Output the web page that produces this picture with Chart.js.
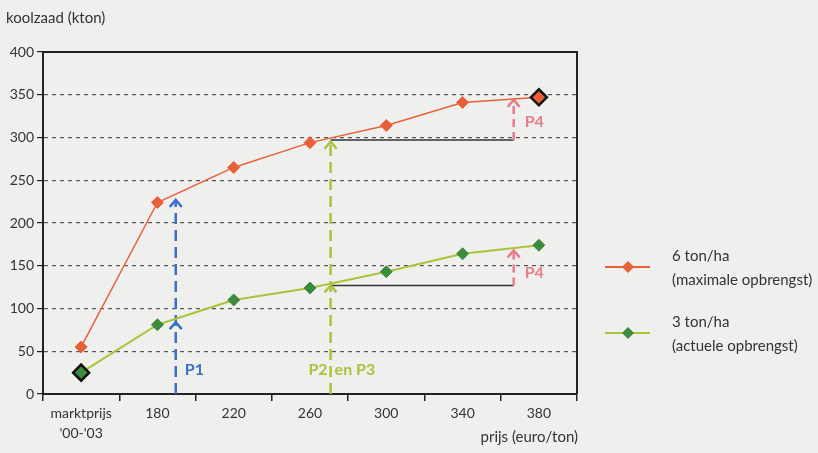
<!DOCTYPE html>
<html>
<head>
<meta charset="utf-8">
<script src="https://cdn.jsdelivr.net/npm/chart.js@4/dist/chart.umd.min.js"></script>
<style>
  html, body { margin: 0; padding: 0; background: #eff0ed; }
  #wrap { width: 818px; height: 453px; }
</style>
</head>
<body>
<div id="wrap"><canvas id="chart"></canvas></div>
<script>
const categories = [["marktprijs", "'00-'03"], "180", "220", "260", "300", "340", "380"];
const max6 = [55, 224, 265, 294, 314, 341, 347];
const act3 = [25, 81, 110, 124, 143, 164, 174];
const yTicks = [0, 50, 100, 150, 200, 250, 300, 350, 400];

const FONT = "Lato, 'Open Sans', sans-serif";
const ORANGE = '#e8603a';
const GREEN = '#3d8c3d';
const BLUE = '#3b70c8';
const LIME = '#a9c43c';
const PINK = '#e97d8c';

// arrows: x as fractional category index, values in kton
const arrows = [
  { x: 1.24, from: 0, heads: [227, 84], color: BLUE, dash: [11, 6] },
  { x: 3.27, from: 0, heads: [295, 127], color: LIME, dash: [11, 6] },
  { x: 5.67, from: 297, heads: [344], color: PINK, dash: [8, 5], label: 'P4', labelY: 318 },
  { x: 5.67, from: 127, heads: [168], color: PINK, dash: [8, 5], label: 'P4', labelY: 142 }
];
const levels = [{ from: 3.27, to: 5.67, y: 297 }, { from: 3.27, to: 5.67, y: 127 }];

function chevron(ctx, x, y, color) {
  ctx.save();
  ctx.setLineDash([]);
  ctx.strokeStyle = color;
  ctx.lineWidth = 2.5;
  ctx.beginPath();
  ctx.moveTo(x - 6, y + 7);
  ctx.lineTo(x, y);
  ctx.lineTo(x + 6, y + 7);
  ctx.stroke();
  ctx.restore();
}

const extras = {
  id: 'extras',
  beforeDatasetsDraw(chart) {
    const { ctx, chartArea: a, scales: { x, y } } = chart;
    ctx.save();
    // frame top/right
    ctx.strokeStyle = '#222';
    ctx.lineWidth = 2;
    ctx.beginPath();
    ctx.moveTo(a.left, a.top);
    ctx.lineTo(a.right, a.top);
    ctx.lineTo(a.right, a.bottom);
    ctx.stroke();
    // level lines
    ctx.strokeStyle = '#333';
    ctx.lineWidth = 1.5;
    levels.forEach(l => {
      const py = y.getPixelForValue(l.y);
      ctx.beginPath();
      ctx.moveTo(x.getPixelForValue(l.from), py);
      ctx.lineTo(x.getPixelForValue(l.to), py);
      ctx.stroke();
    });
    // arrows
    arrows.forEach(ar => {
      const px = x.getPixelForValue(ar.x);
      const top = Math.max(...ar.heads);
      ctx.strokeStyle = ar.color;
      ctx.lineWidth = 2.5;
      ctx.setLineDash(ar.dash);
      ctx.beginPath();
      ctx.moveTo(px, y.getPixelForValue(ar.from));
      ctx.lineTo(px, y.getPixelForValue(top));
      ctx.stroke();
      ctx.setLineDash([]);
      ar.heads.forEach(h => chevron(ctx, px, y.getPixelForValue(h), ar.color));
    });
    // labels
    ctx.font = 'bold 16px ' + FONT;
    ctx.textBaseline = 'middle';
    const ly = y.getPixelForValue(28);
    ctx.fillStyle = BLUE;
    ctx.textAlign = 'left';
    ctx.fillText('P1', x.getPixelForValue(1.24) + 9, ly);
    ctx.fillStyle = LIME;
    ctx.textAlign = 'right';
    ctx.fillText('P2', x.getPixelForValue(3.27) - 3, ly);
    ctx.textAlign = 'left';
    ctx.fillText('en P3', x.getPixelForValue(3.27) + 4, ly);
    ctx.fillStyle = PINK;
    arrows.filter(ar => ar.labelY).forEach(ar => {
      ctx.fillText(ar.label, x.getPixelForValue(ar.x) + 11, y.getPixelForValue(ar.labelY));
    });
    ctx.restore();
  },
  afterDraw(chart) {
    const { ctx, chartArea: a } = chart;
    ctx.save();
    ctx.fillStyle = '#333';
    ctx.font = '15px ' + FONT;
    ctx.textBaseline = 'middle';
    ctx.textAlign = 'left';
    ctx.fillText('koolzaad (kton)', 6, 18);
    ctx.textAlign = 'right';
    ctx.fillText('prijs (euro/ton)', a.right + 1, 437);
    // legend
    const items = [
      { c: ORANGE, line: ORANGE, y: 267, t: ['6 ton/ha', '(maximale opbrengst)'] },
      { c: GREEN, line: LIME, y: 333, t: ['3 ton/ha', '(actuele opbrengst)'] }
    ];
    items.forEach(it => {
      ctx.strokeStyle = it.line;
      ctx.lineWidth = 2;
      ctx.beginPath();
      ctx.moveTo(605, it.y);
      ctx.lineTo(650, it.y);
      ctx.stroke();
      ctx.fillStyle = it.c;
      ctx.beginPath();
      ctx.moveTo(628, it.y - 6);
      ctx.lineTo(634, it.y);
      ctx.lineTo(628, it.y + 6);
      ctx.lineTo(622, it.y);
      ctx.closePath();
      ctx.fill();
      ctx.fillStyle = '#333';
      ctx.font = '15px ' + FONT;
      ctx.textAlign = 'left';
      ctx.fillText(it.t[0], 672, it.y - 11);
      ctx.fillText(it.t[1], 672, it.y + 13);
    });
    ctx.restore();
  }
};

function special(last) {
  return c => (last ? c.dataIndex === c.dataset.data.length - 1 : c.dataIndex === 0);
}

new Chart(document.getElementById('chart'), {
  type: 'line',
  data: {
    labels: categories,
    datasets: [{
      label: '6 ton/ha (maximale opbrengst)',
      data: max6,
      borderColor: ORANGE,
      backgroundColor: ORANGE,
      borderWidth: 1.5,
      pointStyle: 'rectRot',
      pointRadius: c => special(true)(c) ? 8 : 6,
      pointBorderColor: c => special(true)(c) ? '#111' : ORANGE,
      pointBorderWidth: c => special(true)(c) ? 2.5 : 1,
      tension: 0
    }, {
      label: '3 ton/ha (actuele opbrengst)',
      data: act3,
      borderColor: LIME,
      backgroundColor: GREEN,
      borderWidth: 2,
      pointStyle: 'rectRot',
      pointRadius: c => special(false)(c) ? 8 : 6,
      pointBorderColor: c => special(false)(c) ? '#111' : GREEN,
      pointBorderWidth: c => special(false)(c) ? 2.5 : 1,
      tension: 0
    }]
  },
  options: {
    responsive: true,
    maintainAspectRatio: false,
    animation: false,
    layout: { padding: { top: 52, right: 241, left: 0, bottom: 0 } },
    plugins: { legend: { display: false }, tooltip: { enabled: false } },
    scales: {
      x: {
        offset: true,
        grid: { offset: true, drawOnChartArea: false, drawTicks: true, tickLength: 7, tickColor: '#222', lineWidth: 1.5 },
        border: { color: '#222', width: 2 },
        ticks: { color: '#333', font: { family: FONT, size: 14, lineHeight: 1.4 }, padding: 3, maxRotation: 0 },
        afterFit: s => { s.height = 59; }
      },
      y: {
        min: 0,
        max: 400,
        afterBuildTicks: s => { s.ticks = yTicks.map(v => ({ value: v })); },
        grid: {
          color: c => (c.tick.value === 0 || c.tick.value === 400) ? 'rgba(0,0,0,0)' : '#555',
          tickColor: '#222',
          tickLength: 6,
          lineWidth: 1.2
        },
        border: { color: '#222', width: 2, dash: [4, 4] },
        ticks: { color: '#333', font: { family: FONT, size: 14 }, padding: 3 },
        afterFit: s => { s.width = 43; }
      }
    }
  },
  plugins: [extras]
});
</script>
</body>
</html>
